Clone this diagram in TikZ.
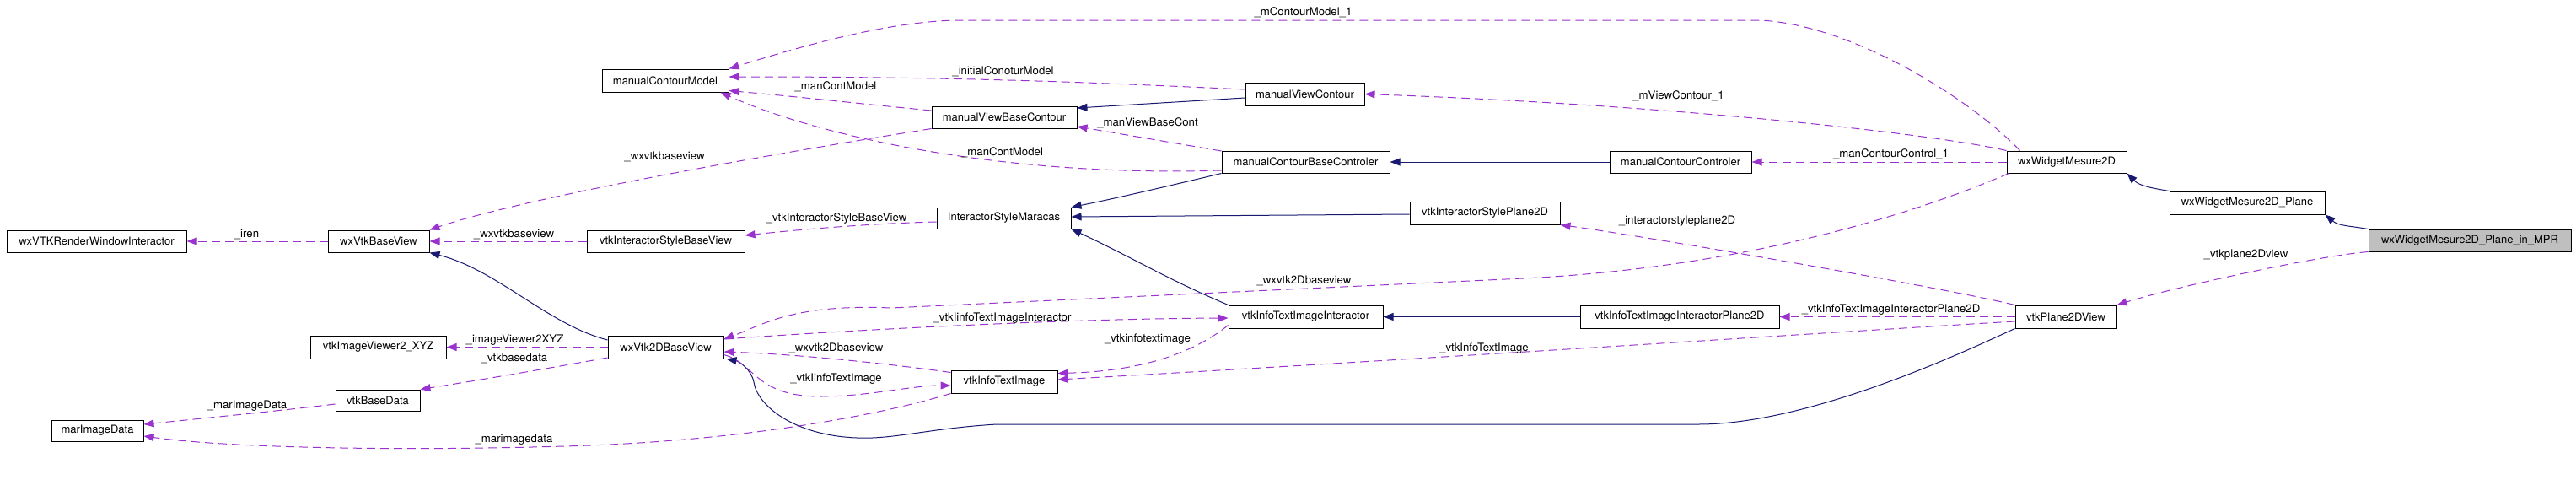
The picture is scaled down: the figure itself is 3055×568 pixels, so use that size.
\documentclass[tikz,border=0pt]{standalone}
\usepackage{fontspec}
\setmainfont{TeX Gyre Heros}
\usetikzlibrary{arrows.meta}
\definecolor{inhc}{HTML}{191970}
\definecolor{depc}{HTML}{9A32CD}
\definecolor{mprfill}{HTML}{BFBFBF}
\begin{document}
\begin{tikzpicture}[x=1pt,y=-1pt,
  cls/.style={draw=black,line width=1pt,inner sep=0pt,minimum height=26pt,font=\fontsize{13}{15}\selectfont},
  lbl/.style={inner sep=0pt,font=\fontsize{13.2}{15}\selectfont},
  inh/.style={draw=inhc,line width=1pt,-{Triangle[length=12pt,width=9pt]}},
  dep/.style={draw=depc,line width=1pt,dash pattern=on 10pt off 6pt,-{Triangle[length=12pt,width=9pt]}},
]
\useasboundingbox (0,0) rectangle (3055,568);
% classes
\node[cls,minimum width=213pt] (wxrwi) at (114.5,286) {wxVTKRenderWindowInteractor};
\node[cls,minimum width=120pt] (wxb) at (449,286) {wxVtkBaseView};
\node[cls,minimum width=187pt] (visbv) at (789.5,286) {vtkInteractorStyleBaseView};
\node[cls,minimum width=150pt,minimum height=27pt] (mcm) at (789,95.5) {manualContourModel};
\node[cls,minimum width=161pt,minimum height=27pt] (viv) at (448.5,411.5) {vtkImageViewer2\_XYZ};
\node[cls,minimum width=137pt,minimum height=27pt] (wx2d) at (789.5,411.5) {wxVtk2DBaseView};
\node[cls,minimum width=100pt,minimum height=25pt] (vbd) at (448,474.5) {vtkBaseData};
\node[cls,minimum width=109pt,minimum height=25pt] (mid) at (115.5,510.5) {marImageData};
\node[cls,minimum width=172pt] (mvbc) at (1191,139) {manualViewBaseContour};
\node[cls,minimum width=141pt,minimum height=27pt] (mvc) at (1547.5,111.5) {manualViewContour};
\node[cls,minimum width=199pt] (mcbc) at (1548.5,192) {manualContourBaseControler};
\node[cls,minimum width=159pt,minimum height=25pt] (ism) at (1190.5,258.5) {InteractorStyleMaracas};
\node[cls,minimum width=168pt] (mcc) at (1993,192) {manualContourControler};
\node[cls,minimum width=178pt,minimum height=27pt] (visp) at (1761,252.5) {vtkInteractorStylePlane2D};
\node[cls,minimum width=142pt] (wwm) at (2451,192) {wxWidgetMesure2D};
\node[cls,minimum width=184pt,minimum height=27pt] (wwmp) at (2665,240.5) {wxWidgetMesure2D\_Plane};
\node[cls,fill=mprfill,minimum width=240pt] (mpr) at (2929,285) {wxWidgetMesure2D\_Plane\_in\_MPR};
\node[cls,minimum width=120pt,minimum height=27pt] (v2d) at (2450,375.5) {vtkPlane2DView};
\node[cls,minimum width=126pt,minimum height=27pt] (vti) at (1191,452.5) {vtkInfoTextImage};
\node[cls,minimum width=183pt,minimum height=27pt] (vtii) at (1548.5,375.5) {vtkInfoTextImageInteractor};
\node[cls,minimum width=236pt,minimum height=27pt] (vtiip) at (1992,375.5) {vtkInfoTextImageInteractorPlane2D};

% inheritance
\draw[inh] ([yshift=-4.5pt]mvc.west) -- ([yshift=11pt]mvbc.east);
\draw[inh] (mcc.west) -- (mcbc.east);
\draw[inh] (mcbc.south west) .. controls (1380,222) and (1310,238) .. (ism.north east);
\draw[inh] ([yshift=-1.5pt]visp.west) -- ([yshift=1.5pt]ism.east);
\draw[inh] (vtii.north west) to[out=157,in=-25] (ism.south east);
\draw[inh] (vtiip.west) -- (vtii.east);
\draw[inh] ([yshift=8.5pt]wx2d.west) .. controls (650,385) and (590,320) .. (wxb.south east);
\draw[inh] (v2d.south west) .. controls (2340,412) and (2150,503) .. (2014,503) -- (1182,503)
  .. controls (1100,508) and (1060,521) .. (1016,519)
  .. controls (940,516) and (898,480) .. (894,453)
  .. controls (891,437) and (875,428) .. ([xshift=3pt]wx2d.south east);
\draw[inh] (wwmp.north west) to[out=170,in=-45] (wwm.south east);
\draw[inh] (mpr.north west) to[out=170,in=-40] (wwmp.south east);

% dependencies
\draw[dep] (wxb.west) -- (wxrwi.east);
\node[lbl] (l1) at (292.5,278) {\_iren};
\draw[dep] (visbv.west) -- (wxb.east);
\node[lbl] (l2) at (609.5,278) {\_wxvtkbaseview};
\draw[dep] (mvbc.south west) .. controls (900,185) and (620,235) .. (wxb.north east);
\node[lbl] (l3) at (788,186) {\_wxvtkbaseview};
\draw[dep] ([yshift=-4.5pt]ism.west) .. controls (1030,265) and (950,272) .. ([yshift=7pt]visbv.east);
\node[lbl] (l4) at (992,259) {\_vtkInteractorStyleBaseView};
\draw[dep] ([yshift=5.5pt]mvc.west) .. controls (1300,98) and (1150,91) .. ([yshift=4.5pt]mcm.east);
\node[lbl] (l5) at (1189.5,85) {\_initialConoturModel};
\draw[dep] ([yshift=8pt]mvbc.west) .. controls (1030,124) and (950,115) .. ([yshift=-12pt]mcm.east);
\node[lbl] (l6) at (991,103) {\_manContModel};
\draw[dep] ([yshift=-10pt]mcbc.west) .. controls (1200,210) and (980,165) .. ([xshift=-10pt]mcm.south east);
\node[lbl] (l7) at (1188.5,181) {\_manContModel};
\draw[dep] ([yshift=13pt]mcbc.west) -- ([yshift=-11pt]mvbc.east);
\node[lbl] (l8) at (1361,146) {\_manViewBaseCont};
\draw[dep] ([xshift=16pt]wwm.north west) .. controls (2340,120) and (2200,30) .. (2088,24) -- (1134,24)
  .. controls (1050,26) and (950,55) .. (mcm.north east);
\node[lbl] (l9) at (1545.5,15) {\_mContourModel\_1};
\draw[dep] (wwm.north west) .. controls (2300,160) and (2000,125) .. (mvc.east);
\node[lbl] (l10) at (1990.5,114) {\_mViewContour\_1};
\draw[dep] (wwm.west) -- (mcc.east);
\node[lbl] (l11) at (2242.5,183) {\_manContourControl\_1};
\draw[dep] ([xshift=3pt]wwm.south west) .. controls (2250,262) and (2050,318) .. (1807,330) -- (1057,365)
  .. controls (940,360) and (905,385) .. ([yshift=9.5pt]wx2d.east);
\node[lbl] (l12) at (1546.5,333) {\_wxvtk2Dbaseview};
\draw[dep] ([yshift=9.5pt]wx2d.east) .. controls (1000,392) and (1250,378) .. ([yshift=-1.5pt]vtii.west);
\node[lbl] (l13) at (1188.5,377) {\_vtkIinfoTextImageInteractor};
\draw[dep] ([yshift=-10pt]vtii.west) .. controls (1420,415) and (1360,440) .. ([yshift=10pt]vti.east);
\node[lbl] (l14) at (1361,402) {\_vtkinfotextimage};
\draw[dep] ([yshift=-3pt]vti.north west) .. controls (1060,432) and (950,420) .. ([yshift=-5.5pt]wx2d.east);
\node[lbl] (l15) at (991.5,413) {\_wxvtk2Dbaseview};
\draw[dep] ([yshift=-9pt]wx2d.east) .. controls (895,430) and (895,470) .. (973,470)
  .. controls (1030,470) and (1080,457) .. ([yshift=-4.5pt]vti.west);
\node[lbl] (l16) at (991.5,449) {\_vtkIinfoTextImage};
\draw[dep] ([yshift=-5.5pt]v2d.west) .. controls (2200,392) and (1700,425) .. ([yshift=2.5pt]vti.east);
\node[lbl] (l17) at (1760,413) {\_vtkInfoTextImage};
\draw[dep] (v2d.west) -- (vtiip.east);
\node[lbl] (l18) at (2242.5,367) {\_vtkInfoTextImageInteractorPlane2D};
\draw[dep] (v2d.north west) .. controls (2300,340) and (1950,280) .. (visp.south east);
\node[lbl] (l19) at (1989,262) {\_interactorstyleplane2D};
\draw[dep] (mpr.south west) .. controls (2750,303) and (2580,340) .. (v2d.north east);
\node[lbl] (l20) at (2663.5,302) {\_vtkplane2Dview};
\draw[dep] (wx2d.west) -- (viv.east);
\node[lbl] (l21) at (610.5,403) {\_imageViewer2XYZ};
\draw[dep] ([yshift=-12.5pt]wx2d.west) .. controls (660,435) and (560,452) .. (vbd.north east);
\node[lbl] (l22) at (610,425) {\_vtkbasedata};
\draw[dep] ([yshift=-4.5pt]vbd.west) .. controls (340,486) and (250,495) .. ([yshift=7.5pt]mid.east);
\node[lbl] (l23) at (293,481) {\_marImageData};
\draw[dep] (vti.south west) .. controls (1050,490) and (900,520) .. (700,528)
  .. controls (500,535) and (280,532) .. ([yshift=-6.5pt]mid.east);
\node[lbl] (l24) at (609.5,521) {\_marimagedata};
\end{tikzpicture}
\end{document}
